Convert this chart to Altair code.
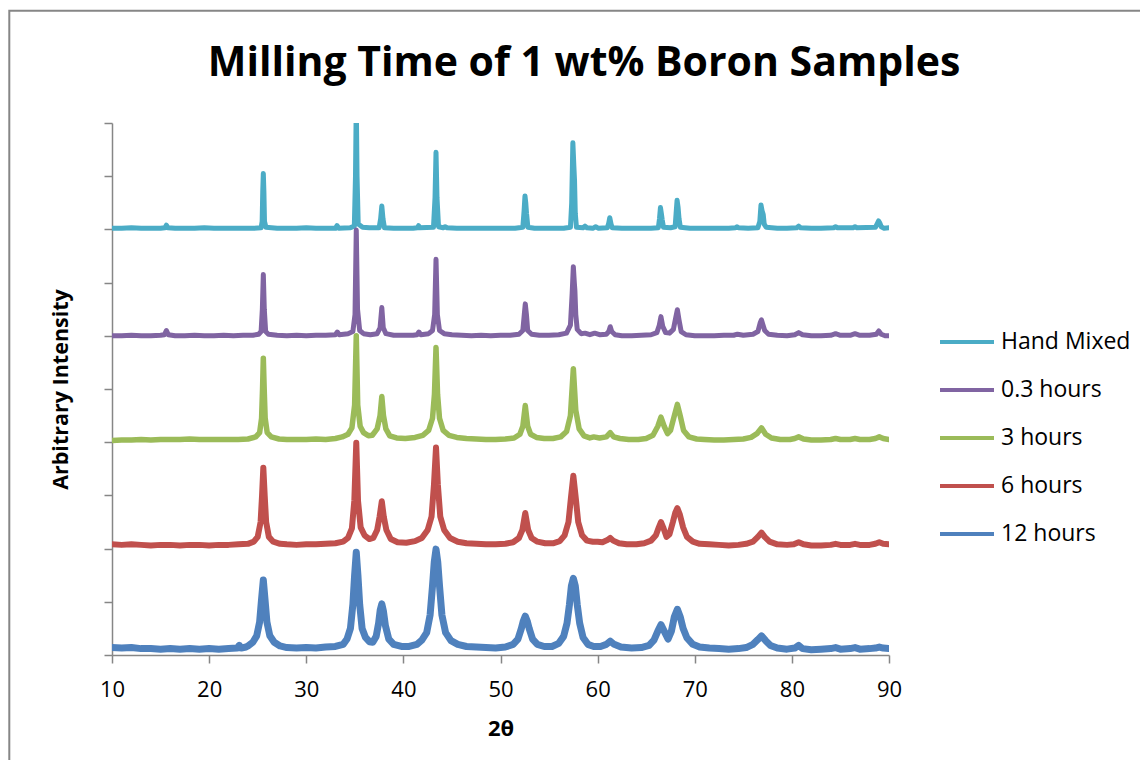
import altair as alt
import pandas as pd

TITLE = "Milling Time of 1 wt% Boron Samples"
SERIES = ["Hand Mixed", "0.3 hours", "3 hours", "6 hours", "12 hours"]
COLORS = ["#4BACC6", "#8064A2", "#9BBB59", "#C0504D", "#4F81BD"]
X_TICKS = [10, 20, 30, 40, 50, 60, 70, 80, 90]
Y_TICKS = [0, 1, 2, 3, 4, 5, 6, 7, 8, 9, 10]

HAND_MIXED = [(10.0, 8.02), (11.0, 8.02), (12.0, 8.03), (13.0, 8.02), (14.0, 8.02), (15.0, 8.02), (15.45, 8.03), (15.6, 8.08), (15.75, 8.03), (16.5, 8.02), (17.5, 8.02), (18.5, 8.02), (19.5, 8.03), (20.5, 8.02), (21.5, 8.02), (22.5, 8.02), (23.5, 8.02), (24.5, 8.02), (25.35, 8.03), (25.46, 8.15), (25.52, 8.7), (25.58, 9.05), (25.64, 8.7), (25.7, 8.15), (25.85, 8.04), (27.0, 8.02), (28.0, 8.02), (29.0, 8.02), (30.0, 8.03), (31.0, 8.02), (32.0, 8.02), (33.0, 8.02), (33.17, 8.07), (33.35, 8.02), (34.5, 8.03), (34.95, 8.06), (35.07, 9.0), (35.15, 10.4), (35.23, 9.0), (35.35, 8.1), (35.8, 8.04), (36.5, 8.03), (37.5, 8.03), (37.66, 8.2), (37.78, 8.44), (37.9, 8.2), (38.05, 8.03), (39.0, 8.02), (40.0, 8.02), (41.0, 8.02), (41.45, 8.03), (41.57, 8.07), (41.7, 8.03), (43.1, 8.04), (43.26, 8.6), (43.36, 9.45), (43.46, 8.6), (43.62, 8.05), (44.1, 8.03), (44.3, 8.05), (44.5, 8.03), (45.5, 8.02), (46.5, 8.02), (47.5, 8.02), (48.5, 8.02), (49.5, 8.02), (50.5, 8.02), (51.5, 8.02), (52.3, 8.04), (52.43, 8.35), (52.52, 8.63), (52.6, 8.5), (52.68, 8.3), (52.82, 8.04), (53.5, 8.02), (54.5, 8.02), (55.5, 8.02), (56.5, 8.02), (57.2, 8.04), (57.33, 8.5), (57.45, 9.63), (57.55, 9.2), (57.62, 8.93), (57.7, 8.3), (57.82, 8.04), (58.5, 8.03), (58.7, 8.06), (58.9, 8.03), (59.5, 8.02), (59.8, 8.05), (60.1, 8.02), (61.0, 8.03), (61.15, 8.12), (61.25, 8.22), (61.38, 8.1), (61.5, 8.03), (62.5, 8.02), (63.5, 8.02), (64.5, 8.02), (65.5, 8.02), (66.25, 8.03), (66.37, 8.2), (66.47, 8.41), (66.56, 8.3), (66.65, 8.18), (66.78, 8.04), (67.5, 8.03), (67.98, 8.05), (68.08, 8.3), (68.18, 8.55), (68.28, 8.42), (68.38, 8.2), (68.52, 8.04), (69.5, 8.02), (70.5, 8.02), (71.5, 8.02), (72.5, 8.02), (73.5, 8.02), (74.2, 8.03), (74.35, 8.05), (74.5, 8.03), (75.5, 8.02), (76.5, 8.03), (76.7, 8.15), (76.82, 8.46), (76.93, 8.35), (77.05, 8.28), (77.15, 8.1), (77.35, 8.04), (78.5, 8.02), (79.5, 8.02), (80.5, 8.03), (80.7, 8.06), (80.9, 8.03), (82.0, 8.02), (83.0, 8.02), (84.3, 8.03), (84.5, 8.05), (84.7, 8.03), (86.3, 8.03), (86.5, 8.05), (86.7, 8.03), (88.6, 8.04), (88.82, 8.12), (88.93, 8.16), (89.05, 8.12), (89.2, 8.05), (89.5, 8.02), (90.0, 8.03)]

HOURS_0_3 = [(10.0, 6.0), (11.0, 6.0), (12.0, 6.01), (13.0, 6.0), (14.0, 6.0), (15.0, 6.01), (15.4, 6.02), (15.6, 6.1), (15.8, 6.02), (16.5, 6.0), (17.5, 6.0), (18.5, 6.01), (19.5, 6.0), (20.5, 6.0), (21.5, 6.01), (22.5, 6.0), (23.5, 6.01), (24.5, 6.01), (25.1, 6.03), (25.35, 6.08), (25.48, 6.5), (25.58, 7.15), (25.68, 6.5), (25.82, 6.08), (26.1, 6.03), (27.0, 6.01), (28.0, 6.0), (29.0, 6.01), (30.0, 6.0), (31.0, 6.01), (32.0, 6.01), (33.0, 6.02), (33.2, 6.07), (33.4, 6.02), (34.3, 6.04), (34.8, 6.08), (35.02, 6.4), (35.15, 7.99), (35.28, 6.5), (35.5, 6.1), (35.9, 6.04), (36.6, 6.02), (37.3, 6.04), (37.6, 6.15), (37.78, 6.53), (37.93, 6.15), (38.2, 6.04), (39.0, 6.01), (40.0, 6.01), (41.0, 6.01), (41.4, 6.02), (41.6, 6.07), (41.8, 6.02), (42.6, 6.04), (43.0, 6.1), (43.22, 6.4), (43.36, 7.44), (43.5, 6.4), (43.72, 6.1), (44.2, 6.04), (45.0, 6.02), (46.0, 6.01), (47.0, 6.0), (48.0, 6.01), (49.0, 6.0), (50.0, 6.01), (51.0, 6.01), (51.9, 6.03), (52.3, 6.1), (52.45, 6.4), (52.55, 6.6), (52.67, 6.4), (52.8, 6.1), (53.2, 6.03), (54.0, 6.01), (55.0, 6.01), (56.0, 6.02), (56.8, 6.05), (57.2, 6.2), (57.38, 6.8), (57.5, 7.3), (57.6, 7.0), (57.66, 6.85), (57.75, 6.4), (57.9, 6.12), (58.3, 6.04), (58.7, 6.05), (59.2, 6.02), (59.7, 6.05), (60.2, 6.02), (60.9, 6.03), (61.15, 6.08), (61.3, 6.17), (61.45, 6.08), (61.8, 6.02), (62.5, 6.0), (63.5, 6.0), (64.5, 6.01), (65.5, 6.02), (66.1, 6.06), (66.35, 6.2), (66.52, 6.36), (66.7, 6.18), (67.0, 6.06), (67.4, 6.05), (67.8, 6.12), (68.05, 6.35), (68.21, 6.49), (68.38, 6.3), (68.6, 6.08), (69.1, 6.02), (70.0, 6.0), (71.0, 6.0), (72.0, 6.0), (73.0, 6.01), (74.0, 6.01), (74.4, 6.03), (75.0, 6.01), (76.0, 6.03), (76.5, 6.08), (76.75, 6.25), (76.87, 6.3), (77.0, 6.22), (77.2, 6.1), (77.6, 6.03), (78.5, 6.01), (79.5, 6.0), (80.3, 6.02), (80.7, 6.06), (81.1, 6.02), (82.0, 6.0), (83.0, 6.0), (84.0, 6.01), (84.5, 6.04), (85.0, 6.01), (86.0, 6.01), (86.5, 6.04), (87.0, 6.01), (88.0, 6.01), (88.7, 6.03), (88.95, 6.09), (89.2, 6.03), (89.6, 6.0), (90.0, 6.0)]

HOURS_3 = [(10.0, 4.03), (11.0, 4.04), (12.0, 4.04), (13.0, 4.05), (14.0, 4.04), (15.0, 4.05), (16.0, 4.05), (17.0, 4.05), (18.0, 4.06), (19.0, 4.05), (20.0, 4.05), (21.0, 4.05), (22.0, 4.05), (23.0, 4.05), (24.0, 4.06), (24.8, 4.1), (25.2, 4.18), (25.4, 4.45), (25.5, 5.0), (25.58, 5.58), (25.67, 5.0), (25.77, 4.45), (25.98, 4.18), (26.4, 4.1), (27.2, 4.06), (28.0, 4.05), (29.0, 4.05), (30.0, 4.05), (31.0, 4.06), (32.0, 4.05), (33.0, 4.07), (33.7, 4.1), (34.3, 4.15), (34.7, 4.27), (34.98, 4.7), (35.15, 6.0), (35.3, 4.7), (35.55, 4.3), (35.9, 4.18), (36.4, 4.12), (36.8, 4.13), (37.3, 4.25), (37.6, 4.5), (37.78, 4.86), (37.95, 4.5), (38.2, 4.25), (38.6, 4.12), (39.3, 4.08), (40.2, 4.07), (41.2, 4.09), (42.0, 4.13), (42.6, 4.22), (43.0, 4.45), (43.2, 4.9), (43.36, 5.78), (43.52, 4.9), (43.72, 4.45), (44.1, 4.22), (44.7, 4.13), (45.5, 4.09), (46.5, 4.07), (47.5, 4.06), (48.5, 4.05), (49.5, 4.05), (50.5, 4.06), (51.4, 4.08), (52.0, 4.15), (52.3, 4.3), (52.55, 4.69), (52.8, 4.3), (53.1, 4.15), (53.7, 4.09), (54.5, 4.07), (55.4, 4.07), (56.2, 4.1), (56.8, 4.2), (57.2, 4.5), (57.5, 5.38), (57.75, 4.6), (58.1, 4.25), (58.6, 4.12), (59.2, 4.08), (59.6, 4.1), (60.2, 4.08), (60.9, 4.1), (61.3, 4.18), (61.65, 4.1), (62.3, 4.07), (63.2, 4.05), (64.2, 4.05), (65.0, 4.07), (65.7, 4.13), (66.2, 4.3), (66.52, 4.47), (66.85, 4.3), (67.2, 4.16), (67.5, 4.22), (67.9, 4.5), (68.21, 4.71), (68.5, 4.5), (68.85, 4.22), (69.4, 4.1), (70.2, 4.06), (71.0, 4.05), (72.0, 4.04), (73.0, 4.04), (74.0, 4.05), (75.0, 4.06), (75.8, 4.09), (76.4, 4.16), (76.87, 4.27), (77.3, 4.15), (77.9, 4.08), (78.8, 4.05), (79.8, 4.05), (80.3, 4.07), (80.7, 4.1), (81.2, 4.06), (82.0, 4.04), (83.0, 4.04), (84.0, 4.05), (84.5, 4.07), (85.0, 4.05), (86.0, 4.05), (86.5, 4.07), (87.0, 4.05), (88.0, 4.05), (88.6, 4.07), (89.0, 4.1), (89.4, 4.07), (90.0, 4.05)]

HOURS_6 = [(10.0, 2.08), (11.0, 2.07), (12.0, 2.08), (13.0, 2.07), (14.0, 2.06), (15.0, 2.07), (16.0, 2.07), (17.0, 2.06), (18.0, 2.07), (19.0, 2.07), (20.0, 2.06), (21.0, 2.07), (22.0, 2.07), (23.0, 2.08), (24.0, 2.09), (24.6, 2.13), (25.0, 2.22), (25.3, 2.5), (25.45, 3.0), (25.58, 3.52), (25.72, 3.0), (25.87, 2.5), (26.15, 2.22), (26.6, 2.13), (27.3, 2.09), (28.0, 2.08), (29.0, 2.07), (30.0, 2.08), (31.0, 2.08), (32.0, 2.09), (33.0, 2.1), (33.8, 2.13), (34.3, 2.2), (34.7, 2.38), (34.95, 2.9), (35.15, 3.99), (35.33, 2.9), (35.6, 2.4), (36.0, 2.25), (36.5, 2.18), (36.9, 2.2), (37.3, 2.35), (37.55, 2.6), (37.78, 2.89), (37.98, 2.6), (38.25, 2.35), (38.7, 2.18), (39.4, 2.12), (40.3, 2.11), (41.2, 2.14), (41.9, 2.2), (42.5, 2.35), (42.9, 2.6), (43.15, 3.2), (43.36, 3.9), (43.55, 3.2), (43.8, 2.6), (44.2, 2.35), (44.8, 2.2), (45.6, 2.13), (46.5, 2.1), (47.5, 2.09), (48.5, 2.08), (49.5, 2.08), (50.5, 2.09), (51.3, 2.12), (51.9, 2.2), (52.25, 2.35), (52.55, 2.67), (52.85, 2.35), (53.2, 2.2), (53.8, 2.13), (54.6, 2.1), (55.4, 2.1), (56.1, 2.14), (56.6, 2.25), (57.0, 2.5), (57.25, 2.95), (57.5, 3.37), (57.75, 2.95), (58.0, 2.5), (58.4, 2.25), (58.9, 2.15), (59.5, 2.13), (60.0, 2.13), (60.5, 2.12), (61.0, 2.16), (61.3, 2.2), (61.6, 2.15), (62.2, 2.1), (63.0, 2.08), (64.0, 2.08), (64.8, 2.1), (65.5, 2.15), (66.0, 2.25), (66.3, 2.4), (66.52, 2.5), (66.75, 2.4), (67.1, 2.22), (67.4, 2.27), (67.75, 2.5), (68.0, 2.68), (68.21, 2.76), (68.45, 2.65), (68.8, 2.4), (69.2, 2.22), (69.8, 2.13), (70.5, 2.09), (71.5, 2.08), (72.5, 2.07), (73.5, 2.06), (74.5, 2.07), (75.3, 2.09), (76.0, 2.13), (76.5, 2.22), (76.87, 2.3), (77.2, 2.22), (77.7, 2.13), (78.5, 2.08), (79.5, 2.07), (80.2, 2.08), (80.7, 2.12), (81.2, 2.08), (82.0, 2.06), (83.0, 2.06), (84.0, 2.07), (84.5, 2.09), (85.0, 2.07), (86.0, 2.07), (86.5, 2.09), (87.0, 2.07), (88.0, 2.07), (88.6, 2.09), (89.0, 2.12), (89.4, 2.09), (90.0, 2.08)]

HOURS_12 = [(10.0, 0.14), (11.0, 0.13), (12.0, 0.14), (13.0, 0.12), (14.0, 0.12), (15.0, 0.11), (16.0, 0.12), (17.0, 0.11), (18.0, 0.12), (19.0, 0.11), (20.0, 0.12), (21.0, 0.11), (22.0, 0.12), (22.9, 0.13), (23.1, 0.18), (23.3, 0.13), (23.8, 0.15), (24.0, 0.17), (24.5, 0.24), (24.9, 0.36), (25.2, 0.62), (25.4, 1.05), (25.58, 1.41), (25.75, 1.05), (25.95, 0.62), (26.25, 0.36), (26.7, 0.24), (27.3, 0.17), (28.0, 0.14), (29.0, 0.13), (30.0, 0.14), (31.0, 0.13), (32.0, 0.15), (33.0, 0.16), (33.8, 0.2), (34.2, 0.3), (34.55, 0.5), (34.8, 0.95), (34.98, 1.5), (35.15, 1.93), (35.32, 1.5), (35.5, 0.95), (35.75, 0.5), (36.1, 0.33), (36.5, 0.25), (36.85, 0.24), (37.2, 0.35), (37.45, 0.6), (37.62, 0.85), (37.78, 0.96), (37.95, 0.82), (38.15, 0.55), (38.5, 0.3), (39.0, 0.2), (39.8, 0.16), (40.6, 0.16), (41.4, 0.2), (41.9, 0.28), (42.4, 0.42), (42.75, 0.75), (43.0, 1.3), (43.18, 1.75), (43.36, 1.99), (43.54, 1.75), (43.72, 1.3), (43.97, 0.75), (44.35, 0.42), (44.9, 0.27), (45.6, 0.2), (46.5, 0.16), (47.5, 0.15), (48.5, 0.14), (49.5, 0.13), (50.5, 0.15), (51.3, 0.2), (51.8, 0.3), (52.15, 0.5), (52.35, 0.64), (52.55, 0.73), (52.75, 0.64), (52.95, 0.5), (53.3, 0.3), (53.8, 0.2), (54.5, 0.16), (55.3, 0.16), (56.0, 0.22), (56.5, 0.35), (56.85, 0.6), (57.1, 0.95), (57.3, 1.3), (57.5, 1.44), (57.7, 1.3), (57.9, 0.95), (58.15, 0.6), (58.5, 0.33), (59.0, 0.2), (59.6, 0.16), (60.3, 0.16), (60.9, 0.2), (61.3, 0.26), (61.7, 0.2), (62.4, 0.15), (63.5, 0.13), (64.5, 0.14), (65.3, 0.18), (65.8, 0.28), (66.2, 0.45), (66.52, 0.57), (66.85, 0.45), (67.25, 0.3), (67.6, 0.45), (67.9, 0.72), (68.21, 0.86), (68.5, 0.72), (68.8, 0.5), (69.2, 0.32), (69.8, 0.2), (70.5, 0.15), (71.5, 0.13), (72.5, 0.12), (73.5, 0.11), (74.5, 0.12), (75.3, 0.14), (76.0, 0.2), (76.5, 0.29), (76.87, 0.36), (77.3, 0.27), (77.8, 0.18), (78.5, 0.13), (79.5, 0.11), (80.3, 0.13), (80.7, 0.18), (81.1, 0.12), (82.0, 0.1), (83.0, 0.11), (84.0, 0.12), (84.5, 0.14), (85.0, 0.11), (86.0, 0.12), (86.5, 0.14), (87.0, 0.11), (88.0, 0.12), (88.6, 0.13), (89.0, 0.15), (89.4, 0.13), (90.0, 0.12)]

SERIES_POINTS = [HAND_MIXED, HOURS_0_3, HOURS_3, HOURS_6, HOURS_12]
LINE_WIDTHS = [5.0, 5.0, 5.5, 6.0, 7.0]

rows = []
for name, pts in zip(SERIES, SERIES_POINTS):
    for x, y in pts:
        rows.append({"series": name, "two_theta": x, "intensity": y})
df = pd.DataFrame(rows)

FONT = "Open Sans"
GRAY = "#868686"

color = alt.Color(
    "series:N",
    scale=alt.Scale(domain=SERIES, range=COLORS),
    sort=SERIES,
    legend=alt.Legend(
        title=None, orient="none", legendX=826, legendY=207,
        symbolType="stroke", symbolSize=2916, symbolStrokeWidth=4,
        labelFont=FONT, labelFontSize=23, labelColor="black",
        labelOffset=5, rowPadding=24, clipHeight=24, padding=0,
        symbolOffset=0,
    ),
)
x_enc = alt.X(
    "two_theta:Q",
    scale=alt.Scale(domain=[10, 90], nice=False, zero=False),
    axis=alt.Axis(values=X_TICKS, title="2θ", labelPadding=16, titlePadding=18,
                  titleFontSize=22, labelFlush=False),
)
y_enc = alt.Y(
    "intensity:Q",
    scale=alt.Scale(domain=[0, 10], nice=False),
    axis=alt.Axis(values=Y_TICKS, labels=False, title="Arbitrary Intensity",
                  titlePadding=31, titleFontSize=21.5),
)

single = pd.DataFrame({"label": [TITLE]})

layers = []
frame = alt.Chart(single).mark_rect(
    fillOpacity=0, stroke=GRAY, strokeWidth=2, clip=False
).encode(
    x=alt.value(-102.7), x2=alt.value(1040), y=alt.value(-112.3), y2=alt.value(660)
)
layers.append(frame)
title_mark = alt.Chart(single).mark_text(
    font=FONT, fontSize=41, fontWeight="bold", color="black",
    align="center", baseline="alphabetic", clip=False,
).encode(text="label:N", x=alt.value(472), y=alt.value(-47))
layers.append(title_mark)
for name, sw in zip(SERIES, LINE_WIDTHS):
    layers.append(
        alt.Chart(df).transform_filter(alt.datum.series == name)
        .mark_line(strokeWidth=sw, clip=True, strokeCap="round", strokeJoin="round")
        .encode(x=x_enc, y=y_enc, color=color)
    )

chart = alt.layer(*layers).properties(
    width=777, height=532,
    padding={"left": 104, "top": 115, "right": 251, "bottom": 105},
    autosize="none",
).configure_view(stroke=None).configure_axis(
    domainColor=GRAY, tickColor=GRAY, domainWidth=1.5, tickWidth=1.5, tickSize=8,
    grid=False, labelFont=FONT, labelFontSize=22, labelColor="black",
    titleFont=FONT, titleFontWeight="bold", titleColor="black",
)

chart.save("out.html", embed_options={"renderer": "svg", "actions": False})
